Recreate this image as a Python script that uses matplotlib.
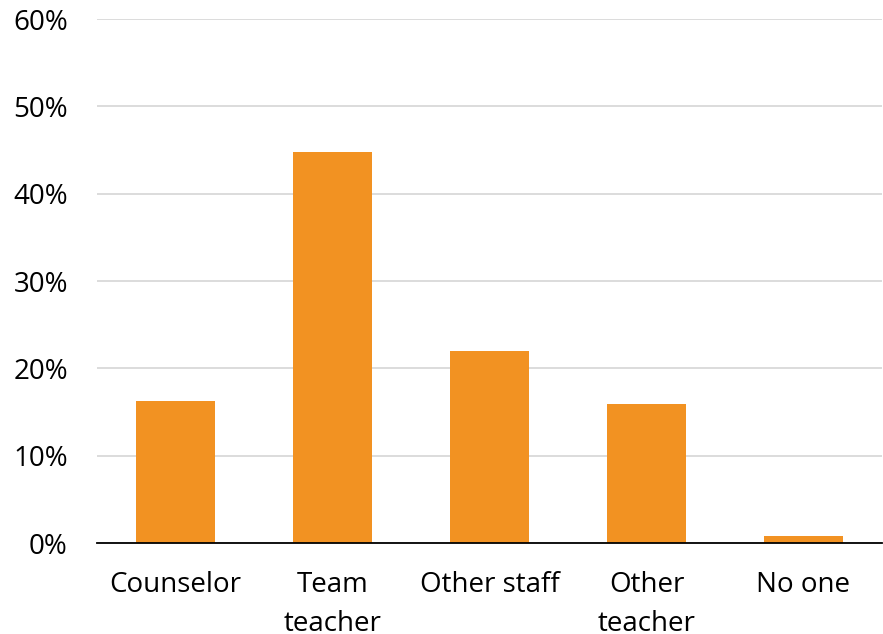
import matplotlib
matplotlib.use("Agg")
import matplotlib.pyplot as plt
from matplotlib.ticker import FuncFormatter

categories = ["Counselor", "Team\nteacher", "Other staff", "Other\nteacher", "No one"]
values = [16.3, 44.8, 22.0, 15.9, 0.8]
yticks = [0, 10, 20, 30, 40, 50, 60]

plt.rcParams['font.family'] = ['Open Sans', 'DejaVu Sans']

fig = plt.figure(figsize=(8.83, 6.34), dpi=100)
ax = fig.add_axes([97/883, 91/634, (882-97)/883, (543-19)/634])

x = list(range(len(categories)))
ax.bar(x, values, width=0.5, color="#F29222", zorder=3)
ax.set_xlim(-0.5, len(categories) - 0.5)
ax.set_ylim(0, 60)
ax.set_yticks(yticks)
ax.yaxis.set_major_formatter(FuncFormatter(lambda v, p: f"{int(v)}%"))
ax.set_xticks(x)
ax.set_xticklabels(categories, fontsize=20, linespacing=1.52)
ax.tick_params(axis='y', labelsize=20, length=0, pad=21)
ax.tick_params(axis='x', length=0, pad=20)
ax.grid(axis='y', color="#D9D9D9", linewidth=1.3, zorder=0)
for s in ["top", "right", "left"]:
    ax.spines[s].set_visible(False)
ax.spines["bottom"].set_color("black")
ax.spines["bottom"].set_linewidth(1.3)
ax.spines["bottom"].set_zorder(4)

fig.savefig("out.png", dpi=100)
